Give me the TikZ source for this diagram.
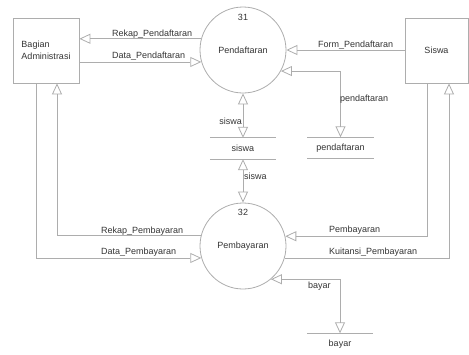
\documentclass[tikz,border=0pt]{standalone}
\usepackage{fontspec}
\setmainfont{Liberation Sans}
\usetikzlibrary{arrows.meta}

\begin{document}
\begin{tikzpicture}[x=1pt,y=-1pt,
		font=\fontsize{9}{11.5}\selectfont, text=black!80,
		dfd/.style={draw=black!32, line width=0.8pt},
		ent/.style={dfd, minimum height=65pt, align=left, inner sep=0pt},
		proc/.style={dfd, circle, minimum size=86pt, inner sep=0pt},
		store/.style={minimum width=66pt, minimum height=21pt, inner sep=0pt},
		lbl/.style={inner sep=0pt, text height=6.5pt, text depth=2pt},
		flow/.style={dfd, -{Triangle[open,length=11pt,width=10pt]}},
		flows/.style={dfd, {Triangle[open,length=11pt,width=10pt]}-{Triangle[open,length=11pt,width=10pt]}}]
	\useasboundingbox (0,0) rectangle (469,354);
	% entities
	\node[ent, minimum width=66pt] (admin) at (46,50.5) {Bagian\\Administrasi};
	\node[ent, minimum width=63pt] (siswa) at (436.5,50.5) {Siswa};
	% processes
	\node[proc] (p31) at (243,50) {Pendaftaran};
	\node[lbl] (n31) at (243,18) {31};
	\node[proc] (p32) at (243,246) {Pembayaran};
	\node[lbl] (n32) at (243,213) {32};
	% data stores
	\node[store] (dsiswa) at (243,148.5) {siswa};
	\draw[dfd] (dsiswa.north west) -- (dsiswa.north east) (dsiswa.south west) -- (dsiswa.south east);
	\node[store] (dpendaftaran) at (340.5,148) {pendaftaran};
	\draw[dfd] (dpendaftaran.north west) -- (dpendaftaran.north east) (dpendaftaran.south west) -- (dpendaftaran.south east);
	\node[store] (dbayar) at (340,344) {bayar};
	\draw[dfd] (dbayar.north west) -- (dbayar.north east);
	% flows of 31
	\draw[flow] (p31.165) -- (p31.165 -| admin.east);
	\draw[flow] (admin.east |- p31.196) -- (p31.196);
	\draw[flow] (siswa.west |- p31.east) -- (p31.east);
	\draw[flows] (p31.-29) -| (dpendaftaran.north);
	\draw[flows] (p31.south) -- (dsiswa.north);
	\draw[flows] (dsiswa.south) -- (p32.north);
	% flows of 32
	\draw[flow] (p32.166.6) -| ([xshift=11pt]admin.south);
	\draw[flow] ([xshift=-10pt]admin.south) |- (p32.196.2);
	\draw[flow] ([xshift=-9.5pt]siswa.south) |- (p32.13.4);
	\draw[flow] (p32.-16.2) -| ([xshift=12.5pt]siswa.south);
	\draw[flows] (p32.-50) -| (dbayar.north);
	% labels
	\node[lbl, anchor=west] (lrekapdaftar) at (112,34) {Rekap\_Pendaftaran};
	\node[lbl, anchor=west] (ldatadaftar) at (112,56) {Data\_Pendaftaran};
	\node[lbl, anchor=west] (lform) at (318,45) {Form\_Pendaftaran};
	\node[lbl, anchor=west] (lpendaftaran) at (340,99) {pendaftaran};
	\node[lbl, anchor=east] (lsiswa1) at (242,122) {siswa};
	\node[lbl, anchor=west] (lsiswa2) at (244,177) {siswa};
	\node[lbl, anchor=west] (lrekapbayar) at (101,231) {Rekap\_Pembayaran};
	\node[lbl, anchor=west] (ldatabayar) at (101,252) {Data\_Pembayaran};
	\node[lbl, anchor=west] (lpembayaran) at (329,230) {Pembayaran};
	\node[lbl, anchor=west] (lkuitansi) at (329,252) {Kuitansi\_Pembayaran};
	\node[lbl, anchor=west] (lbayar) at (308,286) {bayar};
\end{tikzpicture}
\end{document}
